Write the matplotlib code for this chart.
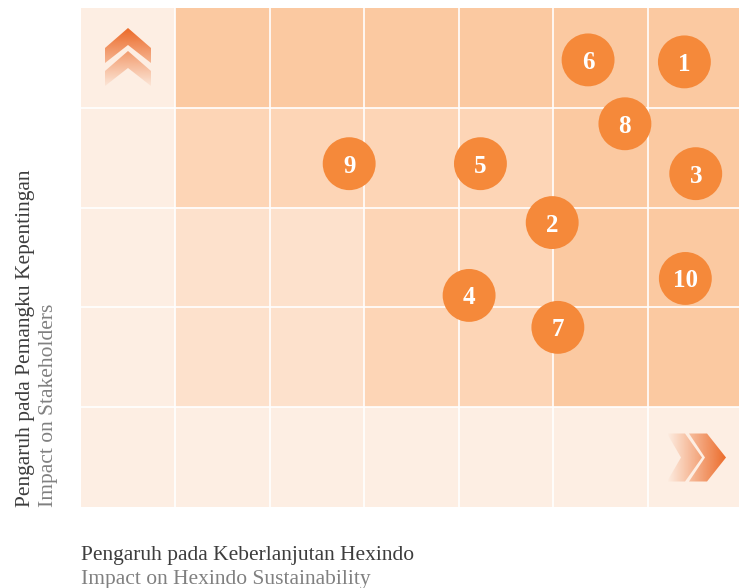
import numpy as np
import matplotlib
matplotlib.use("Agg")
import matplotlib.pyplot as plt
from matplotlib.colors import ListedColormap, to_rgb
from matplotlib.patches import PathPatch
from matplotlib.path import Path

# Materiality matrix: cell shading levels (top row first), 7 columns x 5 rows
cell_levels = [
    [0, 3, 3, 3, 3, 3, 3],
    [0, 2, 2, 2, 2, 3, 3],
    [0, 1, 1, 2, 2, 3, 3],
    [0, 1, 1, 2, 2, 3, 3],
    [0, 0, 0, 0, 0, 0, 0],
]
level_colors = ["#fdeee3", "#fde1cc", "#fdd5b6", "#fbc9a1"]

# Topics: number, impact on Hexindo sustainability (x), impact on stakeholders (y)
topic_ids = ["1", "2", "3", "4", "5", "6", "7", "8", "9", "10"]
impact_hexindo = [6.39, 4.99, 6.51, 4.11, 4.23, 5.37, 5.05, 5.76, 2.84, 6.40]
impact_stakeholders = [4.46, 2.85, 3.34, 2.12, 3.44, 4.48, 1.80, 3.84, 3.44, 2.29]

xlabel_id = "Pengaruh pada Keberlanjutan Hexindo"
xlabel_en = "Impact on Hexindo Sustainability"
ylabel_id = "Pengaruh pada Pemangku Kepentingan"
ylabel_en = "Impact on Stakeholders"

W, H = 739, 588
fig = plt.figure(figsize=(W / 100, H / 100), dpi=100)
fig.patch.set_facecolor("white")

# the matrix runs slightly past the right edge of the canvas
ax = fig.add_axes([81 / W, 81 / H, 661 / W, 499 / H])
ncols, nrows = len(cell_levels[0]), len(cell_levels)
ax.imshow(np.array(cell_levels), cmap=ListedColormap(level_colors), vmin=-0.5, vmax=3.5,
          extent=(0, ncols, 0, nrows), origin="upper", aspect="auto",
          interpolation="nearest", zorder=0)
for i in range(1, ncols):
    ax.axvline(i, color="white", lw=1.2, zorder=1)
for j in range(1, nrows):
    ax.axhline(j, color="white", lw=1.2, zorder=1)
ax.set_xlim(0, ncols)
ax.set_ylim(0, nrows)
ax.set_xticks([])
ax.set_yticks([])
for s in ax.spines.values():
    s.set_visible(False)

ax.scatter(impact_hexindo, impact_stakeholders, s=1450, color="#f5893a",
           edgecolors="none", zorder=3)
for t, x, y in zip(topic_ids, impact_hexindo, impact_stakeholders):
    ax.text(x, y, t, ha="center", va="center_baseline", color="white",
            fontsize=18, fontweight="bold", family="Liberation Serif", zorder=4)

# Axis captions
fig.text(81 / W, 1 - 560 / H, xlabel_id, ha="left", va="baseline",
         fontsize=15.5, color="#3d3d3d", family="Liberation Serif")
fig.text(81 / W, 1 - 584 / H, xlabel_en, ha="left", va="baseline",
         fontsize=15.5, color="#808080", family="Liberation Serif")
fig.text(30 / W, 1 - 507 / H, ylabel_id, ha="left", va="baseline",
         rotation=90, rotation_mode="anchor",
         fontsize=15.5, color="#3d3d3d", family="Liberation Serif")
fig.text(53 / W, 1 - 507 / H, ylabel_en, ha="left", va="baseline",
         rotation=90, rotation_mode="anchor",
         fontsize=15.5, color="#808080", family="Liberation Serif")

# Decorative gradient chevrons, drawn in figure pixel units
deco = fig.add_axes([0, 0, 1, 1], zorder=5)
deco.axis("off")
deco.patch.set_alpha(0)

arrow_rgb = np.array(to_rgb("#ec6a28"))


def P(px, py):
    return (px, H - py)


def gradient_image(x0, x1, y0, y1, direction):
    n = 200
    ramp = np.linspace(0, 1, n)
    if direction == "up":
        alpha = ramp[:, None] * np.ones((1, 2))
    else:
        alpha = np.ones((2, 1)) * ramp[None, :]
    img = np.zeros(alpha.shape + (4,))
    img[..., :3] = arrow_rgb
    img[..., 3] = alpha
    return deco.imshow(img, extent=(x0, x1, H - y1, H - y0), origin="lower",
                       aspect="auto", interpolation="bilinear", zorder=6)


def chevron_up(cx, top, half_w, rise, thick):
    return [P(cx - half_w, top + rise), P(cx, top), P(cx + half_w, top + rise),
            P(cx + half_w, top + rise + thick), P(cx, top + thick + 2),
            P(cx - half_w, top + rise + thick)]


def chevron_right(left, cy, half_h, run, thick):
    return [P(left, cy - half_h), P(left + thick, cy - half_h), P(left + thick + run, cy),
            P(left + thick, cy + half_h), P(left, cy + half_h), P(left + run - 3, cy)]


def clip_to(img, polys):
    verts, codes = [], []
    for poly in polys:
        verts += poly + [poly[0]]
        codes += [Path.MOVETO] + [Path.LINETO] * (len(poly) - 1) + [Path.CLOSEPOLY]
    patch = PathPatch(Path(verts, codes), transform=deco.transData,
                      facecolor="none", edgecolor="none")
    deco.add_patch(patch)
    img.set_clip_path(patch)


# upward double chevron
up_polys = [chevron_up(128, 28, 23, 20, 15), chevron_up(128, 51, 23, 20, 15)]
clip_to(gradient_image(105, 151, 28, 90, "up"), up_polys)

# rightward double chevron
right_polys = [chevron_right(667, 457.5, 24, 17, 18), chevron_right(689, 457.5, 24, 19, 18)]
clip_to(gradient_image(667, 727, 433, 482, "right"), right_polys)

deco.set_xlim(0, W)
deco.set_ylim(0, H)

fig.savefig("out.png", dpi=100)
